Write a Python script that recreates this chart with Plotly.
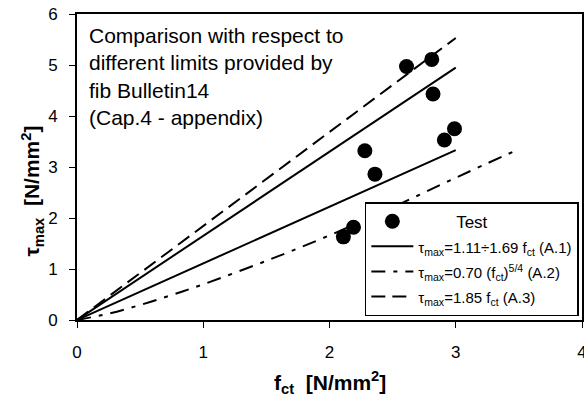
import plotly.graph_objects as go

# Test data
test_fct = [2.11, 2.19, 2.28, 2.36, 2.61, 2.81, 2.82, 2.91, 2.99]
test_tau = [1.63, 1.82, 3.32, 2.86, 4.97, 5.11, 4.43, 3.53, 3.75]

# A.1 limits (two straight lines, lower and upper)
a1_x = [0, 3.0, None, 0, 3.0]
a1_y = [0, 3.33, None, 0, 4.95]

# A.2 curve
a2_x = [0, 0.25, 0.5, 0.75, 1.0, 1.5, 2.0, 2.5, 3.0, 3.5]
a2_y = [0, 0.125, 0.294, 0.49, 0.70, 1.16, 1.66, 2.21, 2.79, 3.35]

# A.3 line
a3_x = [0, 3.0]
a3_y = [0, 5.53]

x_ticks = [0, 1, 2, 3, 4]
y_ticks = [0, 1, 2, 3, 4, 5, 6]

FONT = "Liberation Sans, Arial, sans-serif"

def leg(txt, size=15):
    return '<span style="font-size:%dpx">%s</span>' % (size, txt)

fig = go.Figure()
fig.add_trace(go.Scatter(
    x=test_fct, y=test_tau, mode="markers",
    marker=dict(color="black", size=15, line=dict(width=0)),
    name=leg("&nbsp;" * 8 + "Test", 17)))
fig.add_trace(go.Scatter(
    x=a1_x, y=a1_y, mode="lines", line=dict(color="black", width=2),
    name=leg("τ<sub>max</sub>=1.11÷1.69 f<sub>ct</sub> (A.1)")))
fig.add_trace(go.Scatter(
    x=a2_x, y=a2_y, mode="lines", line=dict(color="black", width=2, dash="14px,8px,4px,8px"),
    line_shape="spline",
    name=leg("τ<sub>max</sub>=0.70 (f<sub>ct</sub>)<sup>5/4</sup> (A.2)")))
fig.add_trace(go.Scatter(
    x=a3_x, y=a3_y, mode="lines", line=dict(color="black", width=2, dash="14px,7px"),
    name=leg("τ<sub>max</sub>=1.85 f<sub>ct</sub> (A.3)")))

axis_common = dict(
    showgrid=False, zeroline=False, showline=True, linecolor="black", linewidth=2,
    mirror=True, ticks="outside", ticklen=6, tickwidth=1, tickcolor="black",
    tickfont=dict(family=FONT, size=17, color="black"),
    ticklabeloverflow="allow", automargin=False,
)
fig.update_xaxes(range=[0, 4], tickvals=x_ticks, ticklabelstandoff=10, **axis_common)
fig.update_yaxes(range=[0, 6], tickvals=y_ticks, ticklabelstandoff=8, **axis_common)

fig.add_annotation(
    xref="paper", yref="paper", x=0.02, y=0.975, xanchor="left", yanchor="top",
    align="left", showarrow=False,
    text="Comparison with respect to<br>different limits provided by<br>fib Bulletin14<br>(Cap.4 - appendix)",
    font=dict(family=FONT, size=21, color="black"))
fig.add_annotation(
    xref="paper", yref="paper", x=0.5, y=-0.205, xanchor="center", yanchor="middle",
    showarrow=False, text="<b>f<sub>ct</sub>  [N/mm<sup>2</sup>]</b>",
    font=dict(family=FONT, size=21, color="black"))
fig.add_annotation(
    xref="paper", yref="paper", x=-0.089, y=0.42, xanchor="center", yanchor="middle",
    textangle=-90, showarrow=False, text="<b>τ<sub>max</sub>  [N/mm<sup>2</sup>]</b>",
    font=dict(family=FONT, size=21, color="black"))

fig.update_layout(
    width=584, height=398,
    margin=dict(l=77, r=2, t=14, b=78),
    paper_bgcolor="white", plot_bgcolor="white",
    showlegend=True,
    legend=dict(x=0.57, y=0.385, xanchor="left", yanchor="top",
                bgcolor="white", bordercolor="black", borderwidth=1.5,
                font=dict(family=FONT, size=17, color="black"),
                itemwidth=42, tracegroupgap=0),
)

fig.write_html("out.html")
